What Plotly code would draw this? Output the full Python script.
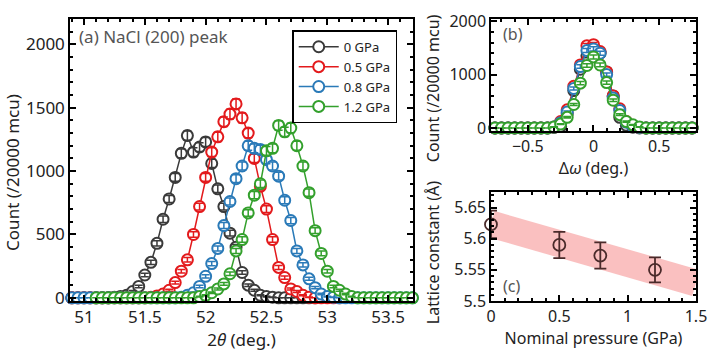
import numpy as np
import plotly.graph_objects as go

# %% Daten

# (a) 2theta scans, NaCl (200)
tth_0 = np.round(np.arange(50.90, 52.90 + 1e-9, 0.05), 2)
cnt_0 = [0, 0, 0, 0, 0, 0, 0, 5,
         10, 20, 50, 90, 180, 280, 430, 620, 780, 950,
         1140, 1280, 1150, 1190, 1230, 1060, 860, 720, 510, 400,
         200, 100, 60, 20, 10, 5,
         0, 0, 0, 0, 0, 0, 0]

tth_05 = np.round(np.arange(50.90, 53.10 + 1e-9, 0.05), 2)
cnt_05 = [0] * 13 + [5, 15, 30, 60, 120, 210, 300, 500, 720, 950,
                     1150, 1270, 1390, 1450, 1530, 1420, 1300, 1100, 880, 700,
                     460, 240, 160, 70, 50, 20, 5] + [0] * 5

tth_08 = np.round(np.arange(50.90, 53.70 + 1e-9, 0.05), 2)
cnt_08 = [0] * 18 + [5, 20, 40, 90, 170, 270, 390, 570, 760, 940,
                     1040, 1200, 1180, 1170, 1090, 1040, 960, 770, 610, 370,
                     260, 150, 80, 30, 10, 5] + [0] * 13

tth_12 = np.round(np.arange(51.10, 53.70 + 1e-9, 0.05), 2)
cnt_12 = [0] * 17 + [10, 20, 40, 70, 110, 190, 370, 460, 670, 810,
                     900, 1160, 1180, 1360, 1310, 1340, 1200, 1040, 830, 530,
                     350, 210, 90, 60, 30, 10] + [0] * 10

# (b) omega scans
omega = np.round(np.arange(-0.75, 0.75 + 1e-9, 0.05), 2)
om_0 = [0] * 9 + [10, 30, 260, 700, 1100, 1350, 1470, 1400, 1050, 600, 200, 50, 15] + [0] * 9
om_05 = [0] * 9 + [20, 120, 340, 780, 1180, 1540, 1560, 1430, 1050, 600, 360, 120, 40, 10] + [0] * 8
om_08 = [0] * 9 + [20, 100, 300, 740, 1150, 1450, 1480, 1400, 1000, 560, 330, 110, 30, 10] + [0] * 8
om_12 = [0] * 9 + [20, 73, 200, 440, 840, 1170, 1330, 1180, 850, 520, 250, 120, 60, 20] + [0] * 8

# (c) Gitterkonstante
pressure = [0, 0.5, 0.8, 1.2]
lattice = [5.623, 5.590, 5.573, 5.550]
lattice_err = [0.022, 0.021, 0.021, 0.020]
band_p = [0, 1.5]
band_a = [5.6235, 5.529]

labels = ['0 GPa', '0.5 GPa', '0.8 GPa', '1.2 GPa']
colors = ['#3a3a3a', '#e31a1c', '#2a7ab8', '#33a02c']

FONT = 'Noto Sans'
TXT = '#222'

fig = go.Figure()


def add_series(x, y, color, name, xa, ya, legend):
    y = np.array(y, dtype=float)
    fig.add_trace(go.Scatter(
        x=x, y=y, mode='lines+markers', name=name,
        line=dict(color=color, width=1.5),
        marker=dict(symbol='circle', size=11, color='white',
                    line=dict(color=color, width=2)),
        xaxis=xa, yaxis=ya, showlegend=legend, cliponaxis=False))
    # Fehlerbalken oben drauf
    fig.add_trace(go.Scatter(
        x=x, y=y, mode='markers',
        marker=dict(size=1, color='rgba(0,0,0,0)'),
        error_y=dict(type='data', array=np.sqrt(y), color=color,
                     thickness=1.5, width=4),
        xaxis=xa, yaxis=ya, showlegend=False, hoverinfo='skip',
        cliponaxis=False))


for x, y, c, n in zip([tth_0, tth_05, tth_08, tth_12],
                      [cnt_0, cnt_05, cnt_08, cnt_12], colors, labels):
    add_series(x, y, c, n, 'x', 'y', True)

for y, c, n in zip([om_0, om_05, om_08, om_12], colors, labels):
    add_series(omega, y, c, n, 'x2', 'y2', False)

# Band (Fit)
fig.add_trace(go.Scatter(
    x=band_p, y=band_a, mode='lines',
    line=dict(color='rgba(245,130,130,0.5)', width=27),
    xaxis='x3', yaxis='y3', showlegend=False, hoverinfo='skip'))

fig.add_trace(go.Scatter(
    x=pressure, y=lattice, mode='markers',
    marker=dict(symbol='circle-open', size=12, color='#4a2a2a',
                line=dict(width=1.8)),
    error_y=dict(type='data', array=lattice_err, color='#4a2a2a',
                 thickness=1.8, width=6),
    xaxis='x3', yaxis='y3', showlegend=False, cliponaxis=False))


def ax(size, **kw):
    d = dict(showline=True, linecolor='black', linewidth=1.5,
             mirror='ticks', ticks='inside', ticklen=6, tickwidth=1.5,
             tickcolor='black', showgrid=False, zeroline=False,
             automargin=False,
             tickfont=dict(family=FONT, size=size, color=TXT),
             title_font=dict(family=FONT, size=size, color=TXT))
    d.update(kw)
    return d


def minor(step):
    return dict(dtick=step, ticks='inside', ticklen=3, tickcolor='black')


def ytitle(text, x, y, size):
    return dict(text=text, x=x, y=y, xref='paper', yref='paper',
                textangle=-90, showarrow=False, xanchor='center',
                yanchor='middle', font=dict(family=FONT, size=size, color=TXT))


def label(text, xref, yref, x, y, yanchor, size):
    return dict(text=text, x=x, y=y, xref=xref, yref=yref, xanchor='left',
                yanchor=yanchor, showarrow=False,
                font=dict(family=FONT, size=size, color='#555'))


# Plotbereich: x 70..696 px, y 19..301 px
fig.update_layout(
    width=709, height=359,
    margin=dict(l=70, r=13, t=19, b=58),
    paper_bgcolor='white', plot_bgcolor='white',
    font=dict(family=FONT, size=17, color=TXT),
    xaxis=ax(17, domain=[0, 0.548], range=[50.885, 53.705], tick0=51, dtick=0.5,
             title=dict(text='2<i>θ</i> (deg.)', standoff=4),
             minor=minor(0.1), anchor='y'),
    yaxis=ax(17, domain=[0, 1], range=[-25, 2200], dtick=500,
             minor=minor(100), anchor='x'),
    xaxis2=ax(16, domain=[0.6725, 1], range=[-0.78, 0.78], dtick=0.5,
              title=dict(text='Δ<i>ω</i> (deg.)', standoff=2),
              minor=minor(0.1), anchor='y2'),
    yaxis2=ax(16, domain=[0.603, 1], range=[-55, 2040], dtick=1000,
              minor=minor(200), anchor='x2'),
    xaxis3=ax(16, domain=[0.6725, 1], range=[0, 1.5], dtick=0.5,
              title=dict(text='Nominal pressure (GPa)', standoff=4),
              minor=minor(0.1), anchor='y3'),
    yaxis3=ax(16, domain=[0, 0.3865], range=[5.5, 5.675], dtick=0.05,
              minor=minor(0.01), anchor='x3'),
    legend=dict(x=0.355, y=0.96, xanchor='left', yanchor='top',
                bgcolor='white', bordercolor='black', borderwidth=1.5,
                font=dict(family=FONT, size=13, color=TXT),
                itemwidth=40, tracegroupgap=0),
    annotations=[
        ytitle('Count (/20000 mcu)', -0.093, 0.457, 17),
        ytitle('Count (/20000 mcu)', 0.58, 0.755, 16),
        ytitle('Lattice constant (Å)', 0.58, 0.17, 16),
        label('(a) NaCl (200) peak', 'x domain', 'y domain', 0.02, 0.985, 'top', 17),
        label('(b)', 'x2 domain', 'y2 domain', 0.05, 0.98, 'top', 16),
        label('(c)', 'x3 domain', 'y3 domain', 0.05, 0.02, 'bottom', 16),
    ],
)

# Body-Rand der Seite entfernen, damit die Grafik bei (0,0) sitzt
fig.write_html('out.html', config={'displayModeBar': False},
               post_script="document.body.style.margin='0';")
